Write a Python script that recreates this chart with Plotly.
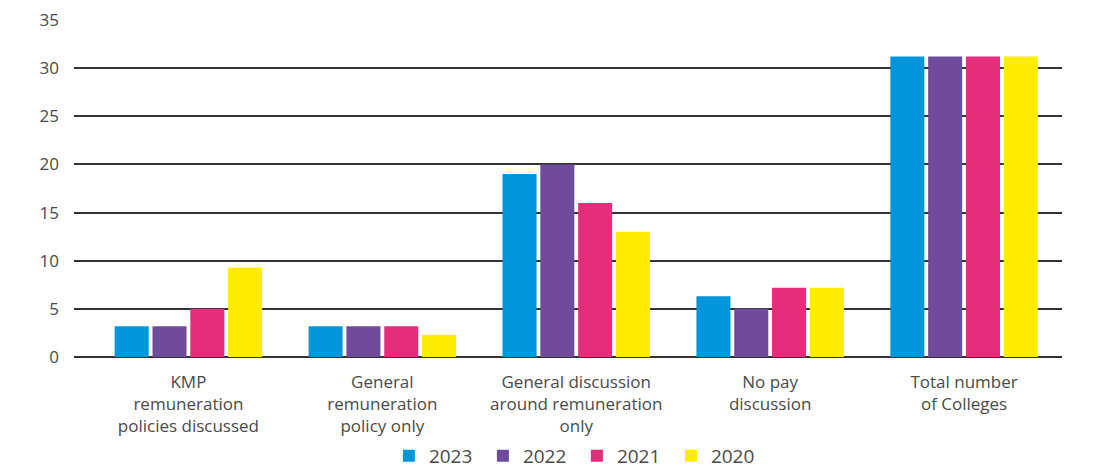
import plotly.graph_objects as go

categories = [
    "KMP<br>remuneration<br>policies discussed",
    "General<br>remuneration<br>policy only",
    "General discussion<br>around remuneration<br>only",
    "No pay<br>discussion",
    "Total number<br>of Colleges",
]
years = ["2023", "2022", "2021", "2020"]
values_2023 = [3.2, 3.2, 19, 6.3, 31.2]
values_2022 = [3.2, 3.2, 20, 5, 31.2]
values_2021 = [5, 3.2, 16, 7.2, 31.2]
values_2020 = [9.3, 2.3, 13, 7.2, 31.2]
colors = ["#0096d9", "#6f4c9b", "#e62d7a", "#ffec00"]

series = [values_2023, values_2022, values_2021, values_2020]

fig = go.Figure()
for name, vals, col in zip(years, series, colors):
    fig.add_trace(go.Bar(
        x=list(range(len(categories))), y=vals, name=name,
        marker=dict(color=col, line=dict(width=0)),
    ))

text_color = "#4a4a4a"
font_family = "'Open Sans', sans-serif"

fig.update_layout(
    width=1094, height=470,
    margin=dict(l=74, r=32, t=20, b=113, autoexpand=False),
    paper_bgcolor="white", plot_bgcolor="white",
    barmode="group", bargap=0.22, bargroupgap=0.1,
    font=dict(family=font_family, size=17, color=text_color),
    showlegend=True,
    legend=dict(
        orientation="h", x=0.509, xanchor="center",
        yref="container", y=0.03, yanchor="middle",
        font=dict(size=19, color=text_color),
        itemwidth=30, entrywidth=49, entrywidthmode="pixels",
        traceorder="normal",
    ),
    xaxis=dict(
        tickmode="array", tickvals=list(range(len(categories))), ticktext=categories,
        range=[-0.59, 4.505], showgrid=False, zeroline=False, showline=False,
        ticks="", ticklabelstandoff=13, automargin=False,
        tickfont=dict(size=17, color=text_color),
    ),
    yaxis=dict(
        range=[0, 35], dtick=5, showgrid=True, gridcolor="#333333", gridwidth=1.5,
        zeroline=True, zerolinecolor="#333333", zerolinewidth=1.5,
        showline=False, ticks="", ticklabelstandoff=14, automargin=False,
        tickfont=dict(size=17, color=text_color),
    ),
)

fig.write_html("out.html")
